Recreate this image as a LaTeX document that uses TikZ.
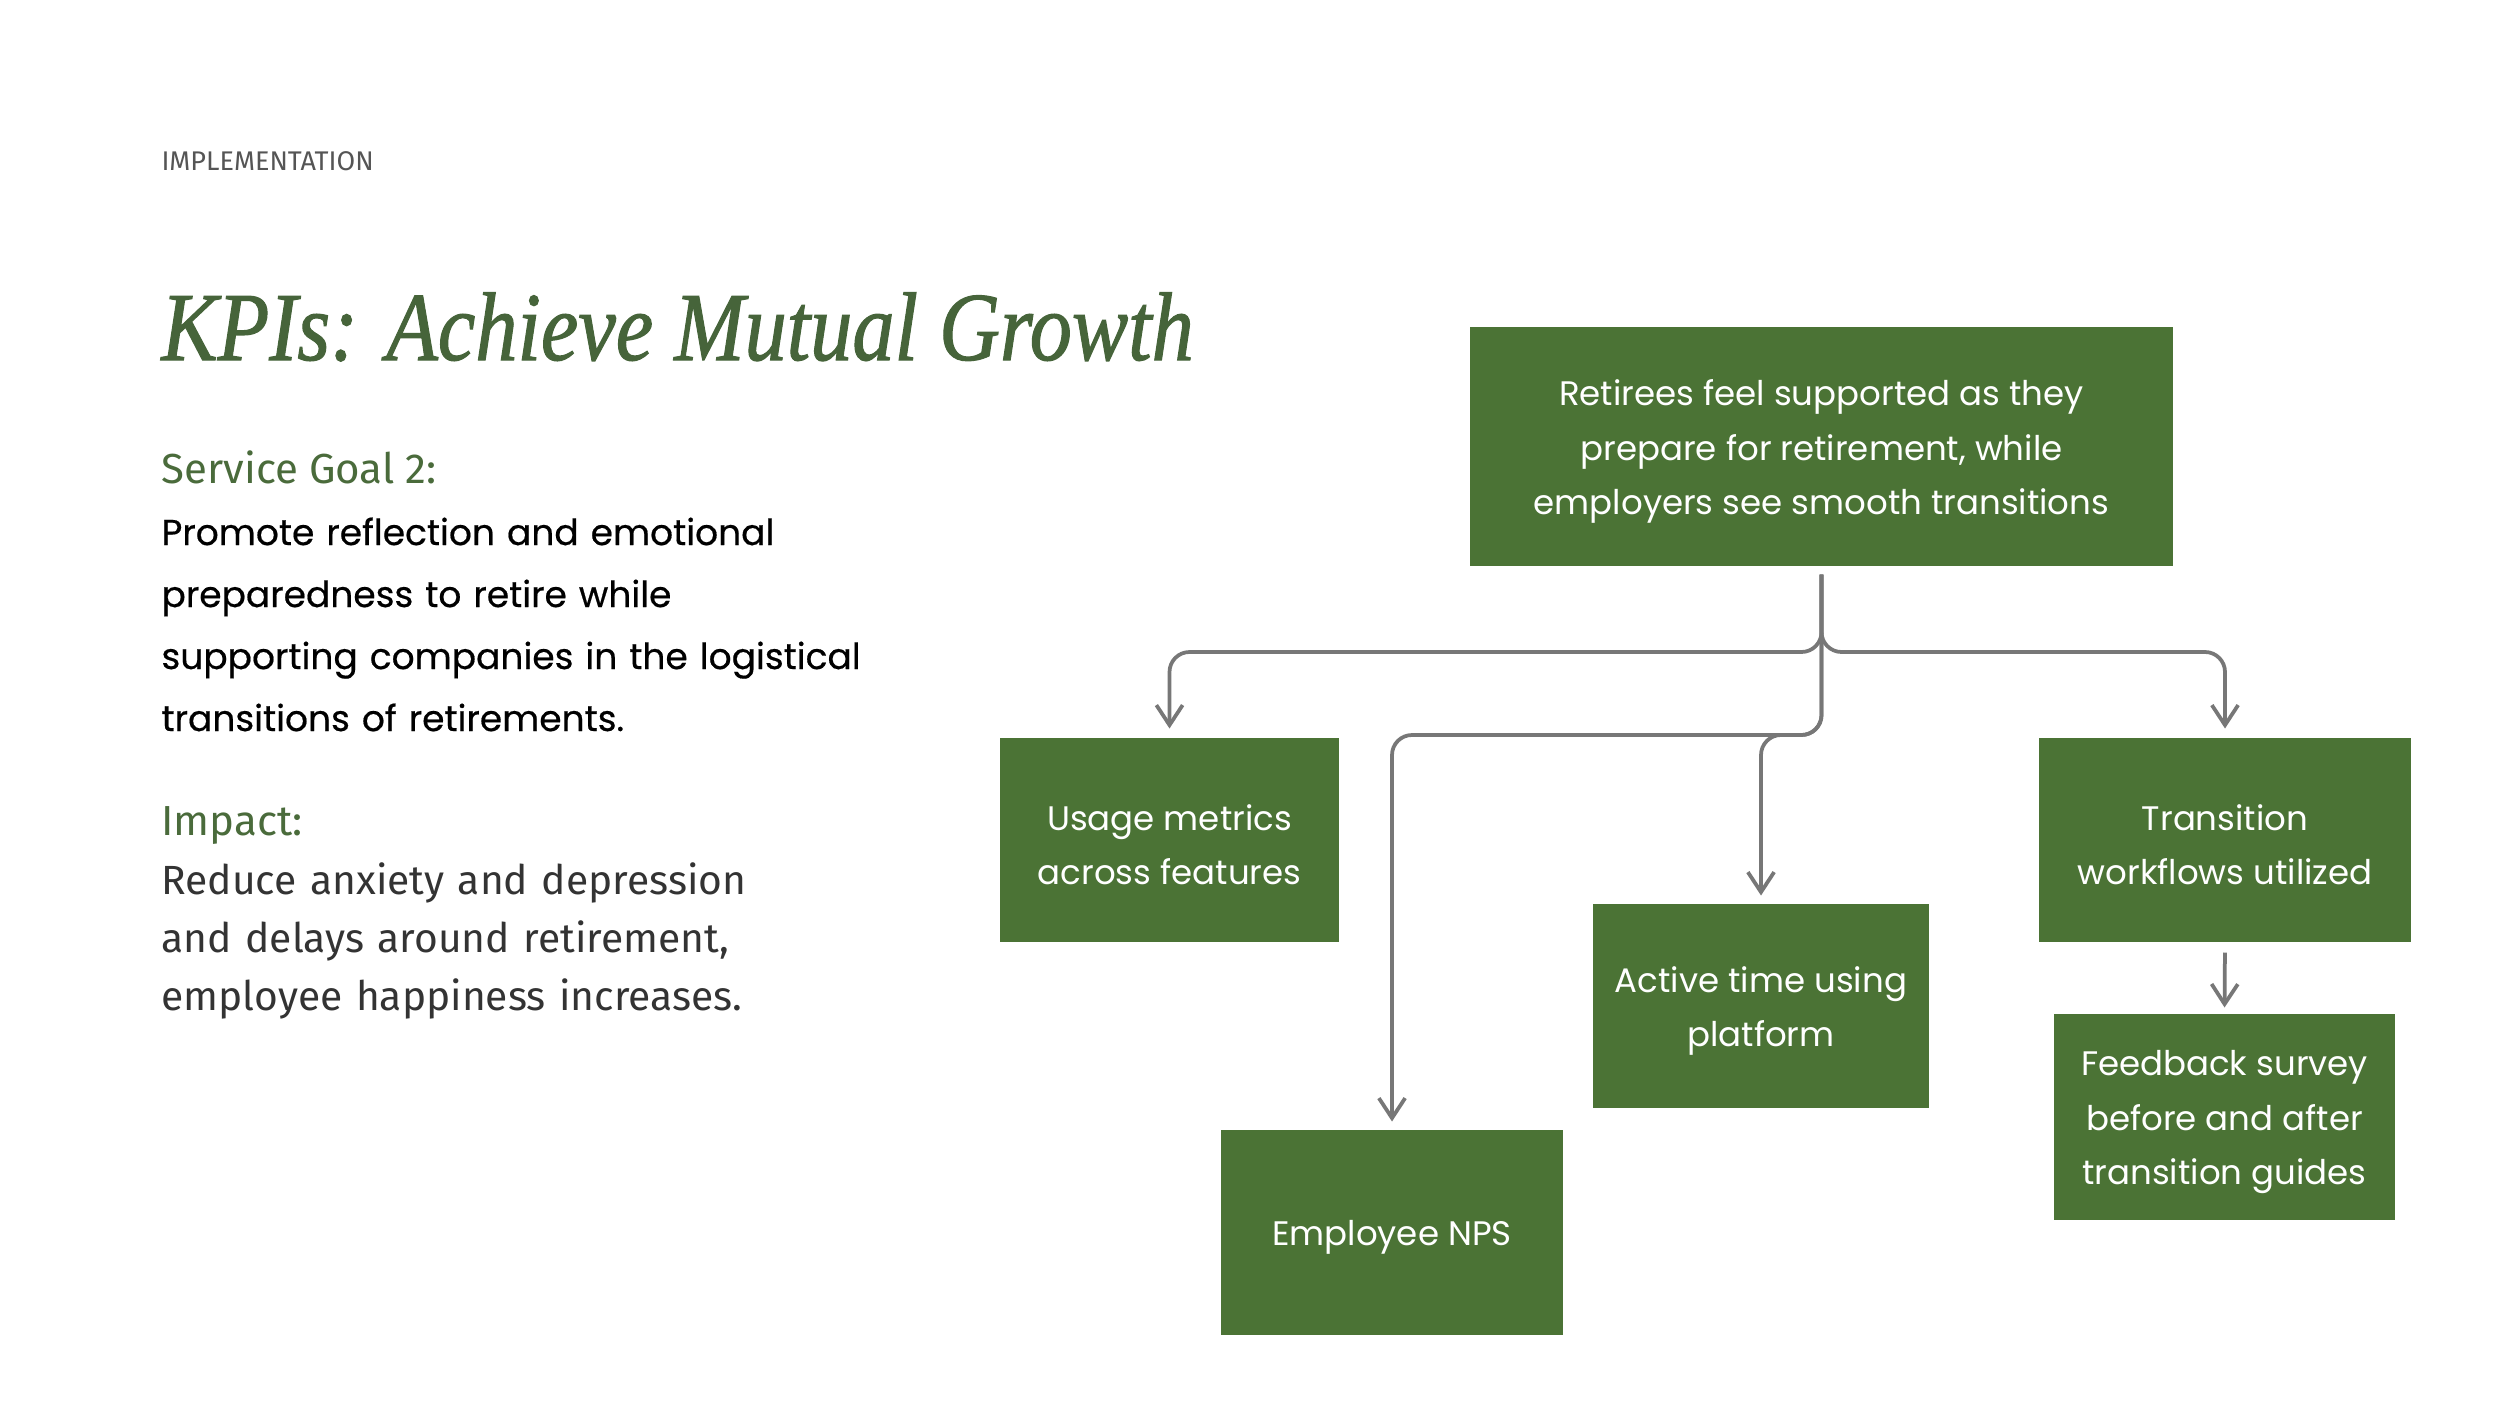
\documentclass[tikz,border=0pt]{standalone}
\usepackage{fontspec}
\setmainfont{Fira Sans}
\newfontfamily\popfont{Poppins}
\newfontfamily\popmed[FakeBold=0.5]{Poppins}
\newfontfamily\titlefont[FakeBold=1.2]{Liberation Serif}
\usetikzlibrary{arrows.meta}
\definecolor{boxgreen}{HTML}{4B7335}
\definecolor{titlegreen}{HTML}{46643A}
\definecolor{headgreen}{HTML}{4A6B3B}
\definecolor{linegray}{HTML}{777777}
\definecolor{bodygray}{HTML}{333333}
\definecolor{kickergray}{HTML}{555555}
\begin{document}
\begin{tikzpicture}[x=0.4pt,y=-0.4pt,
  kpibox/.style={fill=boxgreen, draw=none, inner sep=0pt},
  boxtext/.style={text=white, align=center, inner sep=0pt, yshift=-2pt,
    font=\popfont\fontsize{13.6pt}{21.7pt}\selectfont},
  arr/.style={draw=linegray, line width=1.5pt, rounded corners=8pt,
    -{Straight Barb[length=8pt,width=10.5pt,line width=1.5pt]}},
  plain/.style={inner sep=0pt, anchor=north west, align=left}
]
\useasboundingbox (0,0) rectangle (2500,1406);
\fill[white] (0,0) rectangle (2500,1406);

% left column texts
\node[plain, anchor=base west, text=kickergray, font=\fontsize{10.8pt}{12pt}\selectfont] (kicker) at (161,170) {IMPLEMENTATION};
\node[plain, anchor=base west, text=titlegreen, font=\titlefont\itshape\fontsize{39pt}{44pt}\selectfont] (title) at (161,360) {\scalebox{0.865}[1]{KPIs: Achieve Mutual Growth}};
\node[plain, anchor=base west, text=headgreen, font=\fontsize{16.8pt}{18pt}\selectfont] (goalhead) at (161,483) {Service Goal 2:};
\node[plain, text width=320pt, text=black, font=\popmed\fontsize{14.4pt}{24.8pt}\selectfont] (goal) at (161,517) {Promote reflection and emotional\\preparedness to retire while\\supporting companies in the logistical\\transitions of retirements.};
\node[plain, anchor=base west, text=headgreen, font=\fontsize{16.8pt}{18pt}\selectfont] (impacthead) at (161,835) {Impact:};
\node[plain, text width=320pt, text=bodygray, font=\fontsize{16.3pt}{23.3pt}\selectfont] (impact) at (161,862) {Reduce anxiety and depression\\and delays around retirement,\\employee happiness increases.};

% boxes
\node[kpibox, minimum width=281.2pt, minimum height=95.6pt,
  label={[boxtext]center:{Retirees feel supported as they\\prepare for retirement, while\\employers see smooth transitions}}] (top) at (1821.5,446.5) {};
\node[kpibox, minimum width=135.6pt, minimum height=81.6pt,
  label={[boxtext]center:{Usage metrics\\across features}}] (usage) at (1169.5,840) {};
\node[kpibox, minimum width=148.8pt, minimum height=81.6pt,
  label={[boxtext]center:{Transition\\workflows utilized}}] (trans) at (2225,840) {};
\node[kpibox, minimum width=134.4pt, minimum height=81.6pt,
  label={[boxtext]center:{Active time using\\platform}}] (active) at (1761,1006) {};
\node[kpibox, minimum width=136.8pt, minimum height=82pt,
  label={[boxtext]center:{Employee NPS}}] (nps) at (1392,1232.5) {};
\node[kpibox, minimum width=136.4pt, minimum height=82.4pt,
  label={[boxtext]center:{Feedback survey\\before and after\\transition guides}}] (feed) at (2224.5,1117) {};

% junctions
\coordinate (j1) at (1821.5,652);
\coordinate (j2) at (1821.5,735);

% connectors
\draw[arr, shorten <=3.2pt, shorten >=3.6pt] (top.south) -- (j1) -| (usage.north);
\draw[arr, shorten <=3.2pt, shorten >=3.6pt] (top.south) -- (j1) -| (trans.north);
\draw[arr, shorten <=3.2pt, shorten >=3.2pt] (top.south) -- (j2) -| (nps.north);
\draw[arr, shorten <=3.2pt, shorten >=3.2pt] (top.south) -- (j2) -| (active.north);
\draw[arr, shorten <=4pt, shorten >=2.4pt] (trans.south) -- (feed.north);
\end{tikzpicture}
\end{document}
